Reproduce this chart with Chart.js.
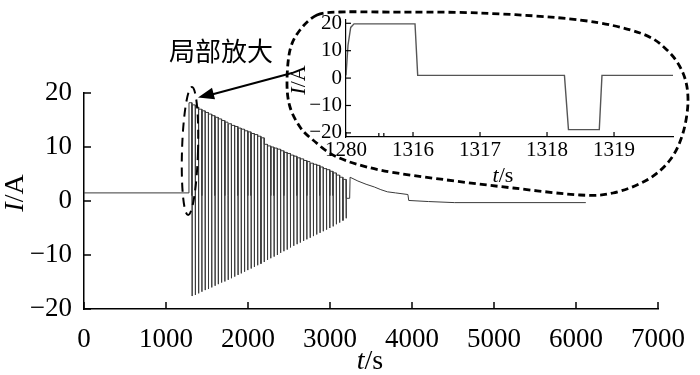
<!DOCTYPE html>
<html>
<head>
<meta charset="utf-8">
<script src="https://cdn.jsdelivr.net/npm/chart.js@4"></script>
<style>
html, body { margin: 0; padding: 0; background: #fff; }
#wrap { position: relative; width: 700px; height: 375px; }
#main { position: absolute; left: 0; top: 0; width: 700px; height: 375px; }
#inset { position: absolute; left: 290px; top: 0; width: 410px; height: 190px; }
</style>
</head>
<body>
<div id="wrap">
  <div id="main"><canvas id="c1"></canvas></div>
  <div id="inset"><canvas id="c2"></canvas></div>
</div>
<script>
// 主图 – 充放电前的静置段
const preTime = [0, 1280];
const preCurrent = [1.5, 1.5];

// 脉冲段：每个周期的起点 (s)、正向平台电流、负脉冲电流 (A)
const pulseStart = [1280, 1320, 1360, 1400, 1440, 1480, 1520, 1560, 1600, 1640, 1680, 1720,
  1760, 1800, 1840, 1880, 1920, 1960, 2000, 2040, 2080, 2120, 2160, 2200,
  2240, 2280, 2320, 2360, 2400, 2440, 2480, 2520, 2560, 2600, 2640, 2680,
  2720, 2760, 2800, 2840, 2880, 2920, 2960, 3000, 3040, 3080, 3120, 3160];
const pulseTop = [18.2, 17.8, 17.4, 17.0, 16.7, 16.4, 16.1, 15.8, 15.5, 15.2, 14.9, 14.6,
  14.3, 14.0, 13.8, 13.5, 13.3, 13.0, 12.8, 12.5, 12.3, 12.0, 11.7, 10.5,
  10.2, 10.0, 9.8, 9.6, 9.3, 9.0, 8.8, 8.5, 8.3, 8.0, 7.8, 7.5,
  7.3, 7.0, 6.8, 6.6, 6.3, 6.0, 5.8, 5.5, 5.2, 4.8, 4.4, 4.0];
const pulseBottom = [-17.6, -17.4, -17.1, -16.8, -16.5, -16.3, -16.0, -15.7, -15.4, -15.1, -14.9, -14.6,
  -14.3, -14.0, -13.7, -13.4, -13.1, -12.8, -12.5, -12.2, -11.9, -11.6, -11.3, -10.9,
  -10.6, -10.3, -10.0, -9.6, -9.3, -9.0, -8.6, -8.3, -8.0, -7.7, -7.4, -7.1,
  -6.8, -6.5, -6.2, -5.9, -5.6, -5.3, -5.0, -4.7, -4.3, -4.0, -3.6, -3.2];
const restCurrent = 1.0;
// 一个周期内的时长 (s)，按局部放大图读出
const highLen = 36;
const restLen = 2.3;
const negLen = 0.5;

// 脉冲结束后的尾段
const tailTime = [3198, 3240, 3245, 3340, 3440, 3540, 3620, 3700, 3800, 3950, 3960, 4200, 4520, 6120];
const tailCurrent = [0.5, 0.5, 4.4, 3.7, 3.1, 2.6, 2.1, 1.7, 1.5, 1.2, 0.1, -0.1, -0.3, -0.3];

const xTicks = [0, 1000, 2000, 3000, 4000, 5000, 6000, 7000];
const yTicks = [-20, -10, 0, 10, 20];

// 局部放大
const insetTime = [1280.0, 1280.03, 1280.07, 1280.12, 1316.03, 1316.07, 1318.26, 1318.32, 1318.78, 1318.82, 1319.88];
const insetCurrent = [1.0, 12.0, 18.5, 19.8, 19.8, 1.0, 1.0, -18.8, -18.8, 1.0, 1.0];
const insetXTicks = [1280, 1316, 1317, 1318, 1319];
const insetYTicks = [-20, -10, 0, 10, 20];
// 断轴：1280 画在 1315 的位置
const breakReal = 1280, breakShown = 1315;
const toShown = t => (t < 1300 ? t - breakReal + breakShown : t);

const serif = '"Liberation Serif", "DejaVu Serif", serif';
const minus = v => String(v).replace('-', '\u2212');

// 主图折线点
const mainPoints = [];
preTime.forEach((t, i) => mainPoints.push({ x: t, y: preCurrent[i] }));
pulseStart.forEach((s, k) => {
  const a = s + highLen, b = a + restLen, c = b + negLen;
  mainPoints.push({ x: s + 0.5, y: pulseTop[k] });
  mainPoints.push({ x: a, y: pulseTop[k] });
  mainPoints.push({ x: a + 0.1, y: restCurrent });
  mainPoints.push({ x: b, y: restCurrent });
  mainPoints.push({ x: b + 0.05, y: pulseBottom[k] });
  mainPoints.push({ x: c, y: pulseBottom[k] });
  mainPoints.push({ x: c + 0.05, y: restCurrent });
});
tailTime.forEach((t, i) => mainPoints.push({ x: t, y: tailCurrent[i] }));

const insetPoints = insetTime.map((t, i) => ({ x: toShown(t), y: insetCurrent[i] }));

function mixedText(ctx, x, y, size, parts) {
  // parts: [text, italic]
  let w = 0;
  parts.forEach(p => { ctx.font = (p[1] ? 'italic ' : '') + size + 'px ' + serif; w += ctx.measureText(p[0]).width; });
  let cx = x - w / 2;
  ctx.textAlign = 'left';
  ctx.textBaseline = 'middle';
  parts.forEach(p => {
    ctx.font = (p[1] ? 'italic ' : '') + size + 'px ' + serif;
    ctx.fillText(p[0], cx, y);
    cx += ctx.measureText(p[0]).width;
  });
}

function closedSpline(ctx, pts) {
  const n = pts.length;
  ctx.moveTo(pts[0][0], pts[0][1]);
  for (let i = 0; i < n; i++) {
    const p0 = pts[(i - 1 + n) % n], p1 = pts[i], p2 = pts[(i + 1) % n], p3 = pts[(i + 2) % n];
    ctx.bezierCurveTo(p1[0] + (p2[0] - p0[0]) / 6, p1[1] + (p2[1] - p0[1]) / 6,
      p2[0] - (p3[0] - p1[0]) / 6, p2[1] - (p3[1] - p1[1]) / 6, p2[0], p2[1]);
  }
}

const blob = [[317, 15], [300, 30], [290, 50], [287, 83], [290, 107], [300, 127], [313, 140], [337, 157],
  [380, 170], [447, 180], [513, 188], [580, 195], [613, 193], [647, 180], [670, 160], [683, 133],
  [688, 100], [683, 73], [667, 50], [640, 33], [580, 20], [480, 13], [380, 12], [340, 12]];

const mainDeco = {
  id: 'mainDeco',
  afterDraw(chart) {
    const ctx = chart.ctx, xs = chart.scales.x, ys = chart.scales.y, ca = chart.chartArea;
    ctx.save();
    ctx.strokeStyle = '#000';
    ctx.fillStyle = '#000';
    ctx.lineWidth = 1.5;
    // 向内的刻度
    xs.ticks.forEach(t => {
      const px = xs.getPixelForValue(t.value);
      ctx.beginPath(); ctx.moveTo(px, ca.bottom); ctx.lineTo(px, ca.bottom - 7); ctx.stroke();
    });
    ys.ticks.forEach(t => {
      const py = ys.getPixelForValue(t.value);
      ctx.beginPath(); ctx.moveTo(ca.left, py); ctx.lineTo(ca.left + 7, py); ctx.stroke();
    });
    // 坐标轴标题
    mixedText(ctx, 370, 362, 28, [['t', true], ['/s', false]]);
    ctx.save();
    ctx.translate(16, 193);
    ctx.rotate(-Math.PI / 2);
    mixedText(ctx, 0, 0, 28, [['I', true], ['/A', false]]);
    ctx.restore();
    // 文字
    ctx.font = '26px "Noto Sans CJK SC"';
    ctx.textAlign = 'center';
    ctx.textBaseline = 'middle';
    ctx.fillText('局部放大', 221, 51);
    // 箭头
    ctx.lineWidth = 2;
    ctx.beginPath(); ctx.moveTo(292, 73); ctx.lineTo(210, 95); ctx.stroke();
    const ang = Math.atan2(97 - 73, 198 - 292);
    ctx.beginPath();
    ctx.moveTo(198, 97.5);
    ctx.lineTo(198 - 16 * Math.cos(ang) + 6 * Math.sin(ang), 97.5 - 16 * Math.sin(ang) - 6 * Math.cos(ang));
    ctx.lineTo(198 - 16 * Math.cos(ang) - 6 * Math.sin(ang), 97.5 - 16 * Math.sin(ang) + 6 * Math.cos(ang));
    ctx.closePath(); ctx.fill();
    // 小椭圆
    ctx.setLineDash([9, 6]);
    ctx.lineWidth = 2;
    ctx.beginPath(); ctx.ellipse(190, 151, 8, 64, 0.03, 0, Math.PI * 2); ctx.stroke();
    // 放大图外框
    ctx.setLineDash([7, 4]);
    ctx.lineWidth = 2.8;
    ctx.beginPath(); closedSpline(ctx, blob); ctx.stroke();
    ctx.restore();
  }
};

const insetDeco = {
  id: 'insetDeco',
  afterDraw(chart) {
    const ctx = chart.ctx, xs = chart.scales.x, ys = chart.scales.y, ca = chart.chartArea;
    ctx.save();
    ctx.strokeStyle = '#000';
    ctx.lineWidth = 1.2;
    xs.ticks.forEach(t => {
      const px = xs.getPixelForValue(t.value);
      ctx.beginPath(); ctx.moveTo(px, ca.bottom); ctx.lineTo(px, ca.bottom - 5); ctx.stroke();
    });
    ys.ticks.forEach(t => {
      const py = ys.getPixelForValue(t.value);
      ctx.beginPath(); ctx.moveTo(ca.left, py); ctx.lineTo(ca.left + 5, py); ctx.stroke();
    });
    // 断轴标记
    const b1 = xs.getPixelForValue(1315.49);
    ctx.beginPath();
    ctx.moveTo(b1, ca.bottom); ctx.lineTo(b1, ca.bottom - 4);
    ctx.moveTo(b1 + 5, ca.bottom); ctx.lineTo(b1 + 5, ca.bottom - 4);
    ctx.stroke();
    ctx.fillStyle = '#000';
    mixedText(ctx, 213, 176, 22, [['t', true], ['/s', false]]);
    ctx.save();
    ctx.translate(9, 80);
    ctx.rotate(-Math.PI / 2);
    mixedText(ctx, 0, 0, 22, [['I', true], ['/A', false]]);
    ctx.restore();
    ctx.restore();
  }
};

new Chart(document.getElementById('c1').getContext('2d'), {
  type: 'line',
  data: {
    datasets: [{
      data: mainPoints,
      borderColor: '#3a3a3a',
      borderWidth: 1,
      pointRadius: 0,
      tension: 0
    }]
  },
  options: {
    responsive: true,
    maintainAspectRatio: false,
    animation: false,
    layout: { autoPadding: false, padding: { top: 93, right: 24, left: 0, bottom: 0 } },
    plugins: { legend: { display: false }, tooltip: { enabled: false } },
    scales: {
      x: {
        type: 'linear', min: 0, max: 7000,
        afterFit: s => { s.height = 66; },
        afterBuildTicks: s => { s.ticks = xTicks.map(v => ({ value: v })); },
        grid: { display: false, drawTicks: false },
        border: { display: true, color: '#000', width: 1.5 },
        ticks: { padding: 15, color: '#000', font: { family: serif, size: 27 }, maxRotation: 0, autoSkip: false, callback: v => String(v) }
      },
      y: {
        min: -20, max: 20,
        afterFit: s => { s.width = 84; },
        afterBuildTicks: s => { s.ticks = yTicks.map(v => ({ value: v })); },
        grid: { display: false, drawTicks: false },
        border: { display: true, color: '#000', width: 1.5 },
        ticks: { padding: 12, color: '#000', font: { family: serif, size: 27 }, autoSkip: false, callback: v => minus(v) }
      }
    }
  },
  plugins: [mainDeco]
});

new Chart(document.getElementById('c2').getContext('2d'), {
  type: 'line',
  data: {
    datasets: [{
      data: insetPoints,
      borderColor: '#555',
      borderWidth: 1.4,
      pointRadius: 0,
      tension: 0
    }]
  },
  options: {
    responsive: true,
    maintainAspectRatio: false,
    animation: false,
    layout: { autoPadding: false, padding: { top: 20, right: 27, left: 0, bottom: 0 } },
    plugins: { legend: { display: false }, tooltip: { enabled: false } },
    scales: {
      x: {
        type: 'linear', min: toShown(1280), max: 1319.88,
        afterFit: s => { s.height = 53; },
        afterBuildTicks: s => { s.ticks = insetXTicks.map(v => ({ value: toShown(v) })); },
        grid: { display: false, drawTicks: false },
        border: { display: true, color: '#000', width: 1.2 },
        ticks: {
          padding: 1, color: '#000', font: { family: serif, size: 21 }, maxRotation: 0, autoSkip: false,
          callback: (v, i) => String(insetXTicks[i])
        }
      },
      y: {
        min: -21.5, max: 21.2,
        afterFit: s => { s.width = 56; },
        afterBuildTicks: s => { s.ticks = insetYTicks.map(v => ({ value: v })); },
        grid: { display: false, drawTicks: false },
        border: { display: true, color: '#000', width: 1.2 },
        ticks: { padding: 4, color: '#000', font: { family: serif, size: 21 }, autoSkip: false, callback: v => minus(v) }
      }
    }
  },
  plugins: [insetDeco]
});
</script>
</body>
</html>
